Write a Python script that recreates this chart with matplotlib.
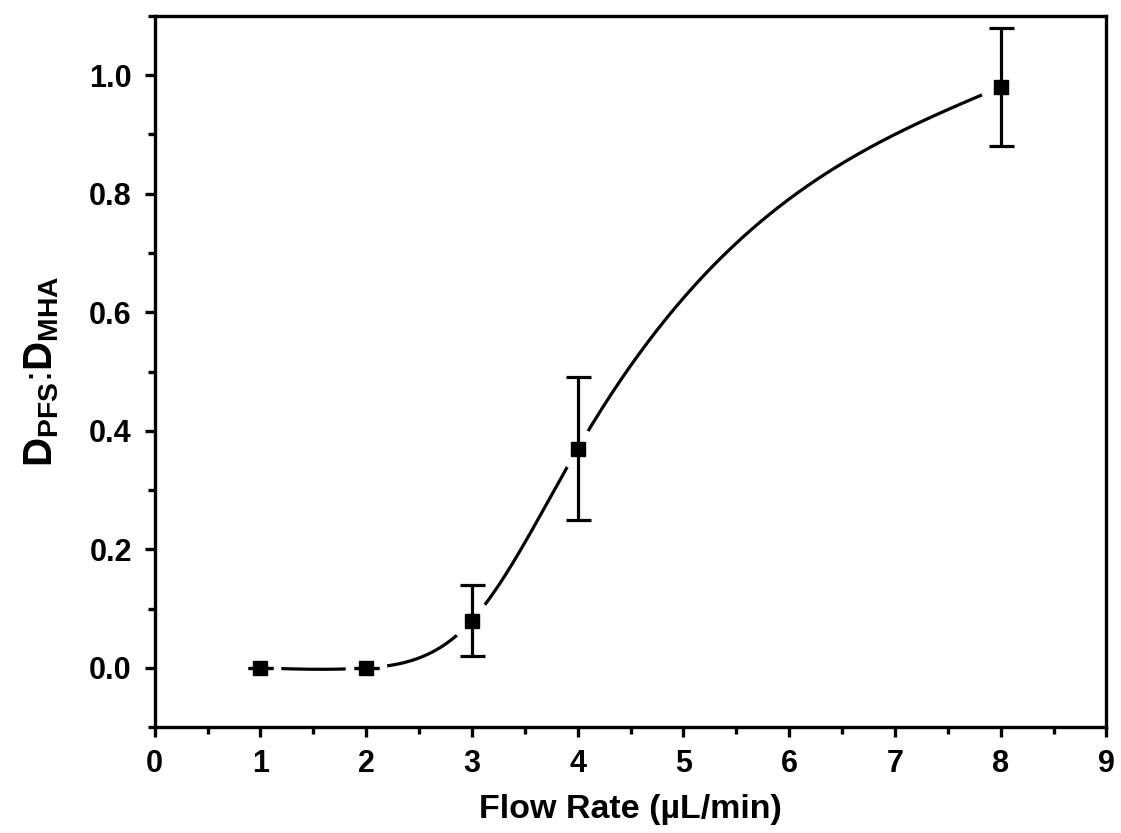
import numpy as np
import matplotlib
matplotlib.use('Agg')
import matplotlib.pyplot as plt

flow_rate = [1, 2, 3, 4, 8]
ratio = [0.0, 0.0, 0.08, 0.37, 0.98]
ratio_err = [0.0, 0.0, 0.06, 0.12, 0.10]
x_ticks = [0, 1, 2, 3, 4, 5, 6, 7, 8, 9]
y_ticks = [0.0, 0.2, 0.4, 0.6, 0.8, 1.0]

plt.rcParams['font.family'] = 'Liberation Sans'
plt.rcParams['font.weight'] = 'bold'
plt.rcParams['mathtext.fontset'] = 'custom'
plt.rcParams['mathtext.rm'] = 'Liberation Sans:bold'
plt.rcParams['mathtext.default'] = 'rm'


def natural_spline(x, y, n=400):
    # plain natural cubic spline, like Origin's "spline" connect
    x = np.asarray(x, float)
    y = np.asarray(y, float)
    k = len(x)
    h = np.diff(x)
    A = np.zeros((k, k))
    b = np.zeros(k)
    A[0, 0] = A[-1, -1] = 1
    for i in range(1, k - 1):
        A[i, i - 1] = h[i - 1]
        A[i, i] = 2 * (h[i - 1] + h[i])
        A[i, i + 1] = h[i]
        b[i] = 6 * ((y[i + 1] - y[i]) / h[i] - (y[i] - y[i - 1]) / h[i - 1])
    M = np.linalg.solve(A, b)
    xs = np.linspace(x[0], x[-1], n)
    idx = np.clip(np.searchsorted(x, xs) - 1, 0, k - 2)
    x0, x1 = x[idx], x[idx + 1]
    hh = x1 - x0
    ys = (M[idx] * (x1 - xs) ** 3 / (6 * hh) + M[idx + 1] * (xs - x0) ** 3 / (6 * hh)
          + (y[idx] / hh - M[idx] * hh / 6) * (x1 - xs)
          + (y[idx + 1] / hh - M[idx + 1] * hh / 6) * (xs - x0))
    return xs, ys


fig = plt.figure(figsize=(11.21, 8.33), dpi=100)
ax = fig.add_axes([0.138, 0.127, 0.849, 0.854])

xs, ys = natural_spline(flow_rate, ratio)
ax.plot(xs, ys, color='black', lw=2.3, zorder=1)
# white halo around points -> gap in the curve
ax.plot(flow_rate, ratio, 'o', ms=29, color='white', zorder=2)
ax.errorbar(flow_rate, ratio, yerr=ratio_err, fmt='s', color='black', ms=9.5,
            elinewidth=2.3, capsize=9, capthick=2.3, zorder=3)

ax.set_xlim(0, 9)
ax.set_ylim(-0.1, 1.1)
ax.set_xticks(x_ticks)
ax.set_xticks(np.arange(0.5, 9, 1), minor=True)
ax.set_yticks(y_ticks)
ax.set_yticks(np.arange(-0.1, 1.11, 0.2), minor=True)
ax.set_yticklabels([f'{v:.1f}' for v in y_ticks])

for s in ax.spines.values():
    s.set_linewidth(2.4)
ax.tick_params(which='major', direction='out', length=7.5, width=2.4, labelsize=22)
ax.tick_params(axis='x', which='major', pad=8)
ax.tick_params(axis='y', which='major', pad=9)
ax.tick_params(which='minor', direction='out', length=5, width=2.4)

ax.set_xlabel('Flow Rate (µL/min)', fontsize=24.5, fontweight='bold', labelpad=11)
ax.set_ylabel(r'$D_{PFS}$:$D_{MHA}$', fontsize=29, labelpad=20)

fig.savefig('out.png', dpi=100)
